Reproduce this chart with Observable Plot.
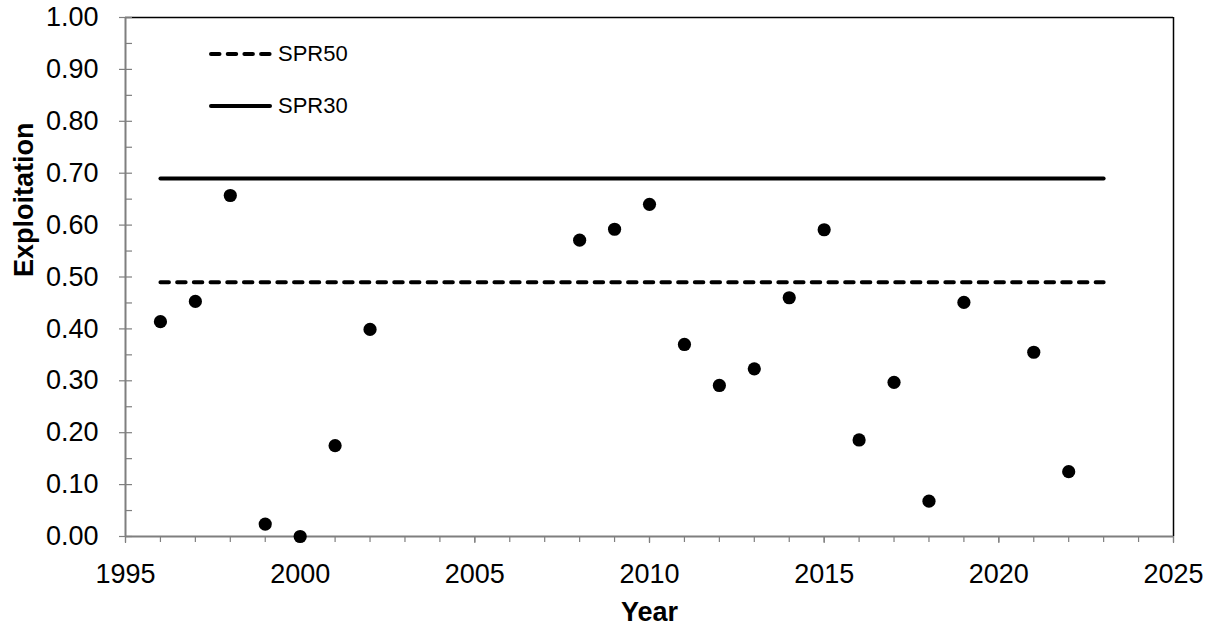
<!DOCTYPE html>
<html>
<head>
<meta charset="utf-8">
<script src="https://cdn.jsdelivr.net/npm/d3@7"></script>
<script src="https://cdn.jsdelivr.net/npm/@observablehq/plot@0.6"></script>
<style>
  html, body { margin: 0; padding: 0; background: #fff; }
  #wrap { position: relative; width: 1217px; height: 627px; font-family: "Liberation Sans", Arial, sans-serif; }
  #legend { position: absolute; left: 209px; top: 38px; }
  .item { display: flex; align-items: center; height: 32px; margin-bottom: 20px; font-size: 22px; color: #000; }
  .item svg { margin-right: 6px; }
</style>
</head>
<body>
<div id="wrap"></div>
<script>
// Annual exploitation estimates
const years = [1996, 1997, 1998, 1999, 2000, 2001, 2002, 2008, 2009, 2010, 2011, 2012, 2013, 2014, 2015, 2016, 2017, 2018, 2019, 2021, 2022];
const exploitation = [0.414, 0.453, 0.657, 0.024, 0.000, 0.175, 0.399, 0.571, 0.592, 0.640, 0.370, 0.291, 0.323, 0.460, 0.591, 0.186, 0.297, 0.068, 0.451, 0.355, 0.125];

// Reference points (exploitation rates at SPR targets)
const refYears = [1996, 2023];
const spr50 = 0.49;
const spr30 = 0.69;

// Axis ticks
const xTicks = d3.range(1995, 2026, 5);
const xMinor = d3.range(1995, 2026, 1);
const yTicks = d3.range(0, 10.5, 1).map(d => d / 10);
const yMinor = d3.range(0, 20.5, 1).map(d => d / 20);

const points = years.map((y, i) => ({year: y, value: exploitation[i]}));
const lineSPR50 = refYears.map(y => ({year: y, value: spr50}));
const lineSPR30 = refYears.map(y => ({year: y, value: spr30}));

const axisGray = "#7f7f7f";

const chart = Plot.plot({
  width: 1217,
  height: 627,
  marginLeft: 125,
  marginRight: 44,
  marginTop: 17,
  marginBottom: 91,
  style: {fontFamily: "Liberation Sans, Arial, sans-serif", background: "#fff", color: "#000"},
  x: {domain: [1995, 2025], label: null},
  y: {domain: [0, 1], label: null},
  marks: [
    // frame: top and right edges
    Plot.ruleY([1], {stroke: "#000", strokeWidth: 1.5}),
    Plot.ruleX([2025], {stroke: "#000", strokeWidth: 1.5}),
    // minor ticks
    Plot.axisX({ticks: xMinor, tickSize: 6, tickFormat: null, stroke: axisGray, strokeWidth: 1.2, text: null, label: null}),
    Plot.axisY({ticks: yMinor, tickSize: -7, tickFormat: null, stroke: axisGray, strokeWidth: 1.2, text: null, label: null}),
    // labelled ticks
    Plot.axisX({ticks: xTicks, tickSize: 7, tickPadding: 20, tickFormat: d => String(d), fontSize: 27, stroke: axisGray, strokeWidth: 1.2,
      label: "Year", labelAnchor: "center", labelOffset: 84, labelArrow: "none"}),
    Plot.axisY({ticks: yTicks, tickSize: 6, tickPadding: 21, tickFormat: d => d.toFixed(2), fontSize: 27, stroke: axisGray, strokeWidth: 1.2,
      label: null}),
    // axis lines
    Plot.ruleX([1995], {stroke: axisGray, strokeWidth: 2}),
    Plot.ruleY([0], {stroke: axisGray, strokeWidth: 2}),
    // reference lines
    Plot.line(lineSPR50, {x: "year", y: "value", stroke: "#000", strokeWidth: 4, strokeDasharray: "8.5,8.2", strokeLinecap: "round"}),
    Plot.line(lineSPR30, {x: "year", y: "value", stroke: "#000", strokeWidth: 4, strokeLinecap: "round"}),
    // observations
    Plot.dot(points, {x: "year", y: "value", r: 6.6, fill: "#000", stroke: "none"}),
    // y title
    Plot.text(["Exploitation"], {frameAnchor: "left", dx: -101, rotate: -90, fontSize: 27, fontWeight: "bold", fill: "#000"})
  ]
});

// bold "Year" title
d3.select(chart).selectAll("text").filter(function() { return this.textContent === "Year"; })
  .attr("font-weight", "bold").attr("font-size", 27);

const wrap = document.getElementById("wrap");
wrap.appendChild(chart);

// in-plot legend
const legend = document.createElement("div");
legend.id = "legend";
legend.innerHTML = `
  <div class="item"><svg width="63" height="8"><line x1="2" y1="4" x2="61" y2="4" stroke="#000" stroke-width="4" stroke-dasharray="8.5,8.2" stroke-linecap="round"/></svg>SPR50</div>
  <div class="item"><svg width="63" height="8"><line x1="2" y1="4" x2="61" y2="4" stroke="#000" stroke-width="4" stroke-linecap="round"/></svg>SPR30</div>`;
wrap.appendChild(legend);
</script>
</body>
</html>
